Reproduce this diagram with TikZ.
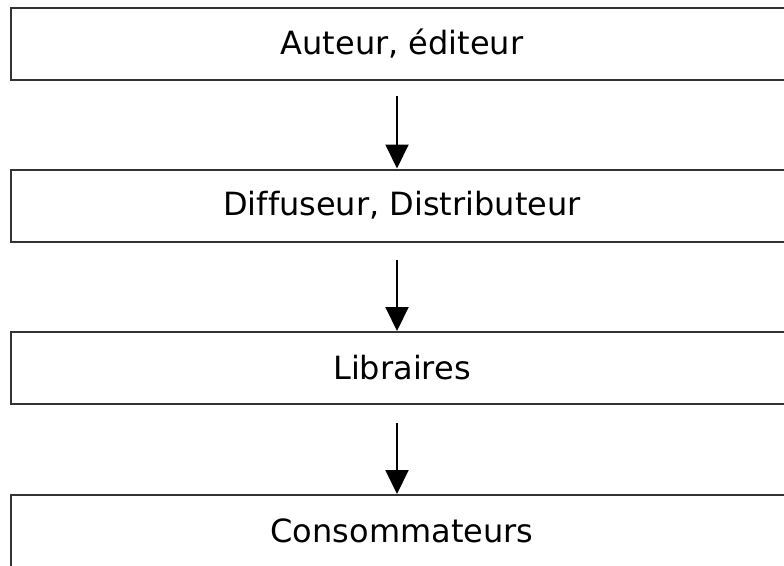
\documentclass[tikz,border=0pt]{standalone}
\usepackage{fontspec}
\setmainfont[Ligatures=NoCommon]{DejaVu Sans}
\usetikzlibrary{arrows.meta}
\begin{document}
\begin{tikzpicture}[x=1pt,y=-1pt,
  stage/.style={draw=black!80, line width=2pt, rectangle,
    minimum width=782pt, minimum height=72pt, inner sep=0pt,
    font=\fontsize{32}{38}\selectfont},
  flow/.style={line width=2pt, -{Triangle[length=24pt,width=23pt]}}]
  \clip (0,0) rectangle (784,565);
  \fill[white] (0,0) rectangle (784,565);
  \node[stage] (auteur)  at (402,44)    {Auteur, éditeur};
  \node[stage] (diff)    at (402,205.5) {Diffuseur, Distributeur};
  \node[stage] (libr)    at (402,368)   {Libraires};
  \node[stage] (conso)   at (402,531)   {Consommateurs};
  \draw[flow] ([xshift=-5pt,yshift=-15pt]auteur.south) -- ([xshift=-5pt]diff.north);
  \draw[flow] ([xshift=-5pt,yshift=-17pt]diff.south) -- ([xshift=-5pt]libr.north);
  \draw[flow] ([xshift=-5pt,yshift=-18pt]libr.south) -- ([xshift=-5pt]conso.north);
\end{tikzpicture}
\end{document}
